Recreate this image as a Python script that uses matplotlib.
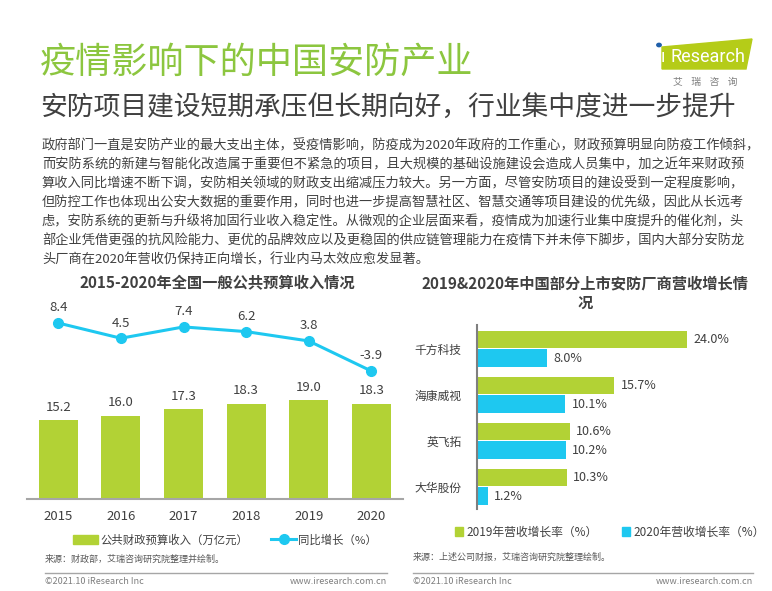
import matplotlib.pyplot as plt
import matplotlib.patches as mpatches
from matplotlib.lines import Line2D

plt.rcParams['font.family'] = ['Noto Sans CJK SC', 'DejaVu Sans']

W, H = 772, 591

# left chart data
years = ['2015', '2016', '2017', '2018', '2019', '2020']
revenue = [15.2, 16.0, 17.3, 18.3, 19.0, 18.3]
growth = [8.4, 4.5, 7.4, 6.2, 3.8, -3.9]

# right chart data
companies = ['千方科技', '海康威视', '英飞拓', '大华股份']
rate_2019 = [24.0, 15.7, 10.6, 10.3]
rate_2020 = [8.0, 10.1, 10.2, 1.2]

body = [
    '政府部门一直是安防产业的最大支出主体，受疫情影响，防疫成为2020年政府的工作重心，财政预算明显向防疫工作倾斜，',
    '而安防系统的新建与智能化改造属于重要但不紧急的项目，且大规模的基础设施建设会造成人员集中，加之近年来财政预',
    '算收入同比增速不断下调，安防相关领域的财政支出缩减压力较大。另一方面，尽管安防项目的建设受到一定程度影响，',
    '但防控工作也体现出公安大数据的重要作用，同时也进一步提高智慧社区、智慧交通等项目建设的优先级，因此从长远考',
    '虑，安防系统的更新与升级将加固行业收入稳定性。从微观的企业层面来看，疫情成为加速行业集中度提升的催化剂，头',
    '部企业凭借更强的抗风险能力、更优的品牌效应以及更稳固的供应链管理能力在疫情下并未停下脚步，国内大部分安防龙',
    '头厂商在2020年营收仍保持正向增长，行业内马太效应愈发显著。',
]

GREEN = '#B2D235'
BLUE = '#1EC8F0'
TEXT = '#404040'
GRAY = '#7F7F7F'


def box(x0, y0, x1, y1):
    # pixel box (top-left origin) -> figure rect
    return [x0 / W, 1 - y1 / H, (x1 - x0) / W, (y1 - y0) / H]


def put(x, y, s, **kw):
    kw.setdefault('va', 'center')
    fig.text(x / W, 1 - y / H, s, **kw)


def hline(x0, x1, y, **kw):
    fig.add_artist(Line2D([x0 / W, x1 / W], [1 - y / H] * 2, **kw))


fig = plt.figure(figsize=(W / 100, H / 100), dpi=100)

# header
put(40, 63, '疫情影响下的中国安防产业', fontsize=26, color='#8CC63F')
put(40, 107, '安防项目建设短期承压但长期向好，行业集中度进一步提升', fontsize=19.3, color=TEXT)
for i, line in enumerate(body):
    put(42, 145.5 + i * 19.1, line, fontsize=9.5, color=TEXT)

# iResearch logo
logo = mpatches.Polygon([(662 / W, 1 - 47 / H), (752 / W, 1 - 39 / H),
                         (746 / W, 1 - 69 / H), (662 / W, 1 - 69 / H)],
                        closed=True, color='#B5CC18', transform=fig.transFigure)
fig.add_artist(logo)
fig.add_artist(mpatches.Circle((659 / W, 1 - 45 / H), 2.2 / W, color='#1F5FAA',
                               transform=fig.transFigure))
put(661, 57, 'ı', fontsize=13, color='white', family=['Roboto', 'DejaVu Sans'])
put(670, 57, 'Research', fontsize=13, color='white', family=['Roboto', 'DejaVu Sans'])
put(705, 82, '艾    瑞    咨    询', fontsize=7, color=GRAY, ha='center')

# left chart
ax = fig.add_axes(box(27, 300, 402.6, 499))
x = list(range(len(years)))
ax.bar(x, revenue, width=0.62, color=GREEN, zorder=2)
for xi, v in zip(x, revenue):
    ax.text(xi, v + 2.5, f'{v:.1f}', ha='center', va='center', fontsize=9.5, color=TEXT)
ax.set_xlim(-0.5, 5.5)
ax.set_ylim(0, 38.3)
ax.set_xticks(x, years)
ax.tick_params(axis='x', length=0, pad=8, labelsize=9.5, labelcolor=TEXT)
ax.set_yticks([])
for s in ['top', 'left', 'right']:
    ax.spines[s].set_visible(False)
ax.spines['bottom'].set_color('#A6A6A6')
ax.spines['bottom'].set_linewidth(1.5)

ax2 = ax.twinx()
ax2.plot(x, growth, color=BLUE, lw=2.2, marker='o', ms=7, zorder=3)
for xi, v in zip(x, growth):
    ax2.text(xi, v + 3.9, f'{v:.1f}', ha='center', va='center', fontsize=9.5, color=TEXT)
ax2.set_ylim(-36.7, 14.3)
ax2.set_yticks([])
for s in ax2.spines.values():
    s.set_visible(False)

handles = [mpatches.Patch(color=GREEN),
           Line2D([], [], color=BLUE, lw=2.2, marker='o', ms=7)]
ax.legend(handles, ['公共财政预算收入（万亿元）', '同比增长（%）'], ncol=2,
          loc='center left', bbox_to_anchor=(73 / W, 1 - 540 / H),
          bbox_transform=fig.transFigure, frameon=False, fontsize=8.2,
          labelcolor=TEXT, handlelength=2.2, handleheight=0.9,
          handletextpad=0.2, columnspacing=2.0, borderpad=0, borderaxespad=0)

put(217, 283, '2015-2020年全国一般公共预算收入情况', fontsize=11,
    fontweight='bold', color=TEXT, ha='center')
put(45, 559, '来源：财政部，艾瑞咨询研究院整理并绘制。', fontsize=6.5, color='#595959')
hline(45, 387, 573, color='#A6A6A6', lw=1)
put(45, 582, '©2021.10 iResearch Inc', fontsize=6.5, color=GRAY)
put(387, 582, 'www.iresearch.com.cn', fontsize=6.5, color=GRAY, ha='right')

# right chart
bx = fig.add_axes(box(477, 325, 757, 509))
y = list(range(len(companies)))
bx.barh([i - 0.2 for i in y], rate_2019, height=0.38, color=GREEN)
bx.barh([i + 0.2 for i in y], rate_2020, height=0.38, color=BLUE)
for i in y:
    bx.text(rate_2019[i] + 0.7, i - 0.2, f'{rate_2019[i]:.1f}%', va='center',
            fontsize=9, color=TEXT)
    bx.text(rate_2020[i] + 0.7, i + 0.2, f'{rate_2020[i]:.1f}%', va='center',
            fontsize=9, color=TEXT)
bx.set_xlim(0, 32)
bx.set_ylim(3.48, -0.52)
bx.set_yticks(y, companies)
bx.tick_params(axis='y', length=0, pad=11, labelsize=8.5, labelcolor=TEXT)
bx.set_xticks([])
for s in ['top', 'bottom', 'right']:
    bx.spines[s].set_visible(False)
bx.spines['left'].set_color(GRAY)
bx.spines['left'].set_linewidth(1.5)

handles = [mpatches.Patch(color=GREEN), mpatches.Patch(color=BLUE)]
bx.legend(handles, ['2019年营收增长率（%）', '2020年营收增长率（%）'], ncol=2,
          loc='center left', bbox_to_anchor=(455 / W, 1 - 532 / H),
          bbox_transform=fig.transFigure, frameon=False, fontsize=8.5,
          labelcolor=TEXT, handlelength=0.7, handleheight=0.7,
          handletextpad=0.3, columnspacing=2.0, borderpad=0, borderaxespad=0)

put(585, 283, '2019&2020年中国部分上市安防厂商营收增长情', fontsize=11,
    fontweight='bold', color=TEXT, ha='center')
put(585, 303, '况', fontsize=11, fontweight='bold', color=TEXT, ha='center')
put(413, 557, '来源：上述公司财报，艾瑞咨询研究院整理绘制。', fontsize=6.5, color='#595959')
hline(413, 753, 573, color='#A6A6A6', lw=1)
put(413, 582, '©2021.10 iResearch Inc', fontsize=6.5, color=GRAY)
put(753, 582, 'www.iresearch.com.cn', fontsize=6.5, color=GRAY, ha='right')

fig.savefig('out.png', dpi=100)
